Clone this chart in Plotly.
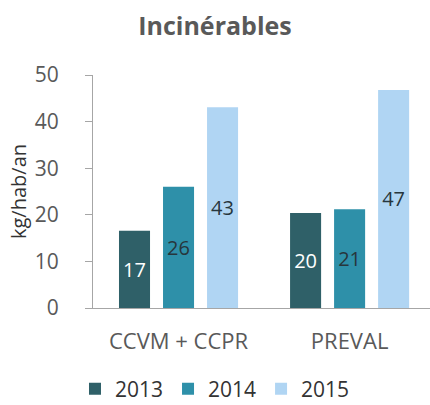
import plotly.graph_objects as go

categories = ["CCVM + CCPR", "PREVAL"]
years = ["2013", "2014", "2015"]
values_2013 = [16.6, 20.4]
values_2014 = [26.0, 21.2]
values_2015 = [43.1, 46.8]

series = {"2013": values_2013, "2014": values_2014, "2015": values_2015}
colors = {"2013": "#2f6068", "2014": "#2e90a9", "2015": "#b0d5f3"}
text_colors = {"2013": "white", "2014": "#27363c", "2015": "#27363c"}

font_family = "Open Sans, Noto Sans, sans-serif"
gray = "#595959"

fig = go.Figure()
for year in years:
    fig.add_trace(
        go.Bar(
            x=categories,
            y=series[year],
            name=year,
            marker=dict(color=colors[year], line=dict(width=0)),
            texttemplate="%{y:.0f}",
            textposition="inside",
            insidetextanchor="middle",
            textangle=0,
            textfont=dict(family=font_family, size=20, color=text_colors[year]),
            hoverinfo="x+y+name",
        )
    )

fig.update_layout(
    width=430,
    height=405,
    # keep the plot box fixed, the legend sits at the very bottom
    margin=dict(l=93, r=0, t=75, b=97, autoexpand=False),
    paper_bgcolor="white",
    plot_bgcolor="white",
    barmode="group",
    bargap=0.228,
    bargroupgap=0.295,
    font=dict(family=font_family, size=20, color=gray),
    title=dict(
        text="<b>Incinérables</b>",
        x=0.5,
        xref="container",
        xanchor="center",
        y=0.935,
        yref="container",
        yanchor="middle",
        font=dict(family=font_family, size=25, color=gray),
    ),
    legend=dict(
        orientation="h",
        x=0.362,
        xanchor="center",
        y=-0.436,
        yanchor="bottom",
        font=dict(size=21, color="#333333"),
        itemsizing="constant",
        traceorder="normal",
    ),
    showlegend=True,
)

fig.update_xaxes(
    type="category",
    range=[-0.5, 1.47],
    showline=True,
    linecolor="#a6a6a6",
    linewidth=1,
    showgrid=False,
    ticks="",
    ticklabelstandoff=14,
    tickfont=dict(size=22, color=gray),
    fixedrange=True,
)

fig.update_yaxes(
    range=[0, 50],
    dtick=10,
    showline=True,
    linecolor="#a6a6a6",
    linewidth=1,
    showgrid=False,
    zeroline=False,
    ticks="outside",
    ticklen=7,
    tickcolor="#a6a6a6",
    ticklabelstandoff=22,
    tickfont=dict(size=21, color=gray),
    title=dict(text="kg/hab/an", font=dict(size=20, color="#333333"), standoff=2),
    fixedrange=True,
)

# the page body has a default 8px margin, drop it so the figure fills the window
fig.write_html(
    "out.html",
    config={"displayModeBar": False},
    post_script="document.body.style.margin='0';document.body.style.overflow='hidden';",
)
